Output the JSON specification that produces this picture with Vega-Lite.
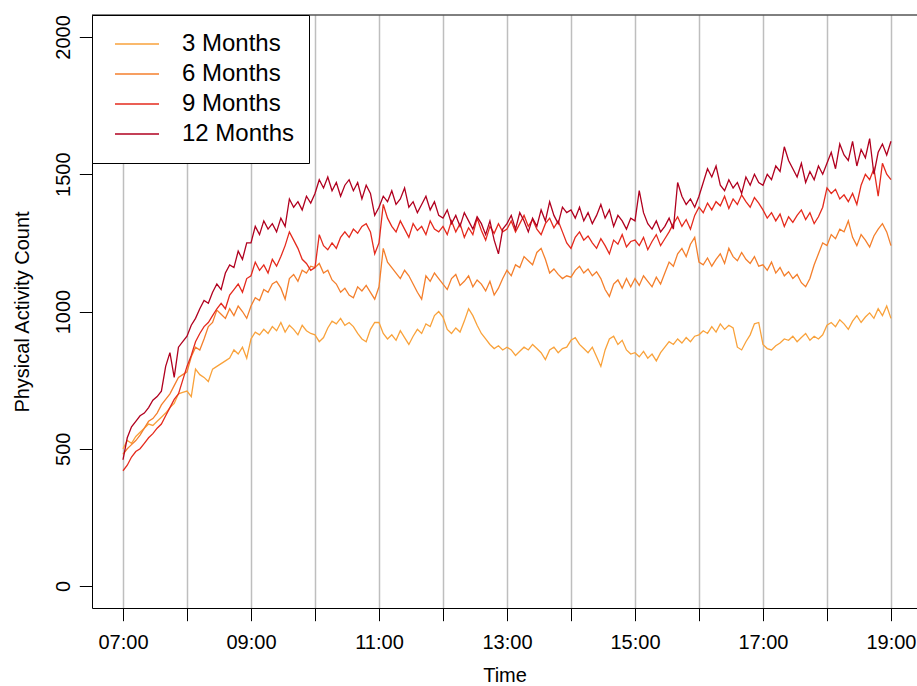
{
  "$schema": "https://vega.github.io/schema/vega-lite/v6.json",
  "width": 825,
  "height": 593,
  "autosize": {"type": "none"},
  "padding": {"left": 92, "top": 15, "right": 0, "bottom": 78},
  "background": "white",
  "config": {"font": "Liberation Sans", "view": {"stroke": null}},
  "data": {"values": [
{"m":0,"m3":500,"m6":480,"m9":420,"m12":460},
{"m":4,"m3":530,"m6":500,"m9":440,"m12":540},
{"m":8,"m3":520,"m6":515,"m9":470,"m12":580},
{"m":12,"m3":545,"m6":530,"m9":490,"m12":600},
{"m":16,"m3":560,"m6":550,"m9":500,"m12":620},
{"m":20,"m3":575,"m6":575,"m9":520,"m12":630},
{"m":24,"m3":590,"m6":600,"m9":540,"m12":650},
{"m":28,"m3":585,"m6":610,"m9":555,"m12":677},
{"m":32,"m3":600,"m6":630,"m9":575,"m12":690},
{"m":36,"m3":615,"m6":660,"m9":590,"m12":710},
{"m":40,"m3":630,"m6":680,"m9":620,"m12":800},
{"m":44,"m3":650,"m6":700,"m9":650,"m12":850},
{"m":48,"m3":665,"m6":730,"m9":680,"m12":760},
{"m":52,"m3":700,"m6":760,"m9":700,"m12":870},
{"m":56,"m3":705,"m6":770,"m9":750,"m12":890},
{"m":60,"m3":710,"m6":780,"m9":800,"m12":910},
{"m":64,"m3":690,"m6":835,"m9":840,"m12":950},
{"m":68,"m3":790,"m6":870,"m9":890,"m12":975},
{"m":72,"m3":770,"m6":860,"m9":920,"m12":1010},
{"m":76,"m3":760,"m6":900,"m9":945,"m12":1040},
{"m":80,"m3":745,"m6":945,"m9":960,"m12":1030},
{"m":84,"m3":790,"m6":960,"m9":985,"m12":1070},
{"m":88,"m3":800,"m6":1005,"m9":1010,"m12":1100},
{"m":92,"m3":810,"m6":990,"m9":1030,"m12":1080},
{"m":96,"m3":820,"m6":975,"m9":1010,"m12":1140},
{"m":100,"m3":830,"m6":1010,"m9":1060,"m12":1170},
{"m":104,"m3":860,"m6":985,"m9":1080,"m12":1160},
{"m":108,"m3":845,"m6":1020,"m9":1100,"m12":1220},
{"m":112,"m3":870,"m6":1000,"m9":1070,"m12":1190},
{"m":116,"m3":830,"m6":975,"m9":1120,"m12":1250},
{"m":120,"m3":900,"m6":1020,"m9":1130,"m12":1250},
{"m":124,"m3":925,"m6":1050,"m9":1180,"m12":1310},
{"m":128,"m3":915,"m6":1040,"m9":1150,"m12":1280},
{"m":132,"m3":935,"m6":1080,"m9":1170,"m12":1330},
{"m":136,"m3":920,"m6":1070,"m9":1140,"m12":1300},
{"m":140,"m3":945,"m6":1100,"m9":1190,"m12":1320},
{"m":144,"m3":930,"m6":1110,"m9":1165,"m12":1290},
{"m":148,"m3":960,"m6":1085,"m9":1200,"m12":1340},
{"m":152,"m3":925,"m6":1045,"m9":1240,"m12":1310},
{"m":156,"m3":950,"m6":1120,"m9":1290,"m12":1410},
{"m":160,"m3":935,"m6":1135,"m9":1260,"m12":1380},
{"m":164,"m3":915,"m6":1110,"m9":1230,"m12":1400},
{"m":168,"m3":950,"m6":1150,"m9":1190,"m12":1370},
{"m":172,"m3":930,"m6":1140,"m9":1175,"m12":1420},
{"m":176,"m3":920,"m6":1165,"m9":1150,"m12":1395},
{"m":180,"m3":915,"m6":1160,"m9":1160,"m12":1430},
{"m":184,"m3":890,"m6":1175,"m9":1280,"m12":1480},
{"m":188,"m3":905,"m6":1140,"m9":1240,"m12":1450},
{"m":192,"m3":940,"m6":1150,"m9":1225,"m12":1490},
{"m":196,"m3":965,"m6":1115,"m9":1250,"m12":1440},
{"m":200,"m3":955,"m6":1100,"m9":1230,"m12":1470},
{"m":204,"m3":975,"m6":1070,"m9":1270,"m12":1420},
{"m":208,"m3":950,"m6":1085,"m9":1290,"m12":1460},
{"m":212,"m3":960,"m6":1060,"m9":1270,"m12":1480},
{"m":216,"m3":945,"m6":1050,"m9":1300,"m12":1440},
{"m":220,"m3":920,"m6":1090,"m9":1285,"m12":1470},
{"m":224,"m3":900,"m6":1075,"m9":1310,"m12":1410},
{"m":228,"m3":890,"m6":1095,"m9":1320,"m12":1460},
{"m":232,"m3":935,"m6":1070,"m9":1290,"m12":1430},
{"m":236,"m3":960,"m6":1045,"m9":1210,"m12":1350},
{"m":240,"m3":960,"m6":1090,"m9":1250,"m12":1380},
{"m":244,"m3":920,"m6":1230,"m9":1390,"m12":1420},
{"m":248,"m3":900,"m6":1180,"m9":1340,"m12":1400},
{"m":252,"m3":915,"m6":1160,"m9":1310,"m12":1440},
{"m":256,"m3":895,"m6":1140,"m9":1290,"m12":1390},
{"m":260,"m3":930,"m6":1120,"m9":1330,"m12":1410},
{"m":264,"m3":905,"m6":1150,"m9":1300,"m12":1450},
{"m":268,"m3":880,"m6":1130,"m9":1270,"m12":1380},
{"m":272,"m3":910,"m6":1100,"m9":1320,"m12":1400},
{"m":276,"m3":935,"m6":1070,"m9":1295,"m12":1360},
{"m":280,"m3":920,"m6":1045,"m9":1310,"m12":1390},
{"m":284,"m3":955,"m6":1130,"m9":1280,"m12":1420},
{"m":288,"m3":945,"m6":1110,"m9":1330,"m12":1370},
{"m":292,"m3":985,"m6":1140,"m9":1300,"m12":1400},
{"m":296,"m3":1000,"m6":1120,"m9":1290,"m12":1350},
{"m":300,"m3":980,"m6":1100,"m9":1310,"m12":1340},
{"m":304,"m3":935,"m6":1080,"m9":1280,"m12":1370},
{"m":308,"m3":920,"m6":1120,"m9":1330,"m12":1320},
{"m":312,"m3":940,"m6":1135,"m9":1290,"m12":1350},
{"m":316,"m3":925,"m6":1095,"m9":1320,"m12":1310},
{"m":320,"m3":965,"m6":1110,"m9":1270,"m12":1360},
{"m":324,"m3":1010,"m6":1130,"m9":1305,"m12":1330},
{"m":328,"m3":985,"m6":1090,"m9":1280,"m12":1300},
{"m":332,"m3":950,"m6":1115,"m9":1340,"m12":1345},
{"m":336,"m3":920,"m6":1100,"m9":1295,"m12":1320},
{"m":340,"m3":900,"m6":1075,"m9":1260,"m12":1280},
{"m":344,"m3":880,"m6":1110,"m9":1310,"m12":1330},
{"m":348,"m3":865,"m6":1060,"m9":1285,"m12":1260},
{"m":352,"m3":875,"m6":1085,"m9":1320,"m12":1210},
{"m":356,"m3":860,"m6":1120,"m9":1290,"m12":1300},
{"m":360,"m3":870,"m6":1150,"m9":1300,"m12":1320},
{"m":364,"m3":860,"m6":1130,"m9":1330,"m12":1350},
{"m":368,"m3":840,"m6":1170,"m9":1290,"m12":1300},
{"m":372,"m3":855,"m6":1160,"m9":1320,"m12":1360},
{"m":376,"m3":870,"m6":1200,"m9":1350,"m12":1330},
{"m":380,"m3":860,"m6":1185,"m9":1310,"m12":1290},
{"m":384,"m3":880,"m6":1170,"m9":1335,"m12":1340},
{"m":388,"m3":865,"m6":1215,"m9":1300,"m12":1310},
{"m":392,"m3":850,"m6":1230,"m9":1280,"m12":1370},
{"m":396,"m3":825,"m6":1190,"m9":1320,"m12":1330},
{"m":400,"m3":860,"m6":1140,"m9":1340,"m12":1400},
{"m":404,"m3":870,"m6":1155,"m9":1305,"m12":1350},
{"m":408,"m3":850,"m6":1135,"m9":1330,"m12":1320},
{"m":412,"m3":865,"m6":1120,"m9":1290,"m12":1380},
{"m":416,"m3":870,"m6":1130,"m9":1250,"m12":1360},
{"m":420,"m3":895,"m6":1125,"m9":1230,"m12":1370},
{"m":424,"m3":905,"m6":1150,"m9":1270,"m12":1340},
{"m":428,"m3":880,"m6":1165,"m9":1290,"m12":1380},
{"m":432,"m3":865,"m6":1140,"m9":1260,"m12":1330},
{"m":436,"m3":850,"m6":1155,"m9":1275,"m12":1360},
{"m":440,"m3":870,"m6":1130,"m9":1250,"m12":1320},
{"m":444,"m3":835,"m6":1145,"m9":1230,"m12":1350},
{"m":448,"m3":800,"m6":1120,"m9":1265,"m12":1390},
{"m":452,"m3":860,"m6":1080,"m9":1240,"m12":1340},
{"m":456,"m3":900,"m6":1055,"m9":1210,"m12":1370},
{"m":460,"m3":910,"m6":1100,"m9":1260,"m12":1310},
{"m":464,"m3":880,"m6":1115,"m9":1245,"m12":1350},
{"m":468,"m3":895,"m6":1085,"m9":1280,"m12":1330},
{"m":472,"m3":860,"m6":1120,"m9":1235,"m12":1300},
{"m":476,"m3":845,"m6":1090,"m9":1255,"m12":1340},
{"m":480,"m3":850,"m6":1120,"m9":1260,"m12":1330},
{"m":484,"m3":835,"m6":1095,"m9":1240,"m12":1440},
{"m":488,"m3":855,"m6":1130,"m9":1270,"m12":1360},
{"m":492,"m3":830,"m6":1110,"m9":1225,"m12":1320},
{"m":496,"m3":845,"m6":1090,"m9":1255,"m12":1300},
{"m":500,"m3":820,"m6":1125,"m9":1280,"m12":1330},
{"m":504,"m3":850,"m6":1100,"m9":1240,"m12":1290},
{"m":508,"m3":870,"m6":1140,"m9":1265,"m12":1310},
{"m":512,"m3":890,"m6":1180,"m9":1290,"m12":1340},
{"m":516,"m3":880,"m6":1165,"m9":1320,"m12":1300},
{"m":520,"m3":900,"m6":1210,"m9":1345,"m12":1470},
{"m":524,"m3":885,"m6":1230,"m9":1310,"m12":1420},
{"m":528,"m3":905,"m6":1200,"m9":1335,"m12":1390},
{"m":532,"m3":890,"m6":1245,"m9":1300,"m12":1410},
{"m":536,"m3":910,"m6":1270,"m9":1350,"m12":1380},
{"m":540,"m3":915,"m6":1180,"m9":1380,"m12":1420},
{"m":544,"m3":930,"m6":1170,"m9":1360,"m12":1470},
{"m":548,"m3":920,"m6":1195,"m9":1395,"m12":1520},
{"m":552,"m3":945,"m6":1165,"m9":1370,"m12":1490},
{"m":556,"m3":925,"m6":1190,"m9":1400,"m12":1530},
{"m":560,"m3":955,"m6":1210,"m9":1385,"m12":1460},
{"m":564,"m3":935,"m6":1175,"m9":1420,"m12":1440},
{"m":568,"m3":950,"m6":1230,"m9":1375,"m12":1480},
{"m":572,"m3":940,"m6":1200,"m9":1410,"m12":1450},
{"m":576,"m3":870,"m6":1185,"m9":1390,"m12":1470},
{"m":580,"m3":860,"m6":1215,"m9":1425,"m12":1430},
{"m":584,"m3":890,"m6":1190,"m9":1400,"m12":1490},
{"m":588,"m3":915,"m6":1175,"m9":1380,"m12":1460},
{"m":592,"m3":955,"m6":1200,"m9":1415,"m12":1500},
{"m":596,"m3":960,"m6":1165,"m9":1395,"m12":1470},
{"m":600,"m3":880,"m6":1170,"m9":1370,"m12":1460},
{"m":604,"m3":865,"m6":1150,"m9":1340,"m12":1500},
{"m":608,"m3":860,"m6":1180,"m9":1360,"m12":1480},
{"m":612,"m3":875,"m6":1140,"m9":1330,"m12":1530},
{"m":616,"m3":885,"m6":1160,"m9":1355,"m12":1510},
{"m":620,"m3":900,"m6":1130,"m9":1310,"m12":1600},
{"m":624,"m3":895,"m6":1145,"m9":1345,"m12":1550},
{"m":628,"m3":910,"m6":1120,"m9":1325,"m12":1520},
{"m":632,"m3":890,"m6":1135,"m9":1350,"m12":1490},
{"m":636,"m3":905,"m6":1105,"m9":1370,"m12":1540},
{"m":640,"m3":920,"m6":1090,"m9":1335,"m12":1470},
{"m":644,"m3":895,"m6":1120,"m9":1360,"m12":1510},
{"m":648,"m3":910,"m6":1170,"m9":1320,"m12":1480},
{"m":652,"m3":900,"m6":1210,"m9":1345,"m12":1530},
{"m":656,"m3":915,"m6":1250,"m9":1380,"m12":1500},
{"m":660,"m3":950,"m6":1240,"m9":1450,"m12":1540},
{"m":664,"m3":960,"m6":1280,"m9":1430,"m12":1580},
{"m":668,"m3":945,"m6":1265,"m9":1445,"m12":1520},
{"m":672,"m3":970,"m6":1300,"m9":1410,"m12":1610},
{"m":676,"m3":955,"m6":1290,"m9":1425,"m12":1570},
{"m":680,"m3":935,"m6":1330,"m9":1400,"m12":1550},
{"m":684,"m3":965,"m6":1270,"m9":1430,"m12":1620},
{"m":688,"m3":985,"m6":1240,"m9":1390,"m12":1530},
{"m":692,"m3":960,"m6":1280,"m9":1460,"m12":1590},
{"m":696,"m3":980,"m6":1260,"m9":1500,"m12":1560},
{"m":700,"m3":995,"m6":1235,"m9":1480,"m12":1630},
{"m":704,"m3":975,"m6":1275,"m9":1520,"m12":1500},
{"m":708,"m3":1010,"m6":1300,"m9":1420,"m12":1580},
{"m":712,"m3":985,"m6":1320,"m9":1540,"m12":1610},
{"m":716,"m3":1020,"m6":1290,"m9":1500,"m12":1570},
{"m":720,"m3":975,"m6":1240,"m9":1480,"m12":1620}
  ]},
  "layer": [
    {
      "transform": [{"fold": ["m3", "m6", "m9", "m12"], "as": ["series", "value"]}],
      "mark": {"type": "line", "strokeWidth": 1.3, "clip": true},
      "encoding": {
        "x": {
          "field": "m", "type": "quantitative",
          "scale": {"domain": [-29.06, 744.4], "nice": false, "zero": false},
          "axis": {
            "values": [0, 60, 120, 180, 240, 300, 360, 420, 480, 540, 600, 660, 720],
            "labelExpr": "datum.value % 120 == 0 ? ((datum.value / 60 + 7) < 10 ? '0' : '') + (datum.value / 60 + 7) + ':00' : ''",
            "title": "Time",
            "grid": true, "gridColor": "#BEBEBE", "gridWidth": 1.5,
            "domain": true, "domainColor": "black", "domainWidth": 1,
            "tickSize": 12.7, "tickColor": "black", "tickWidth": 1,
            "labelFontSize": 20, "labelColor": "black", "labelPadding": 12,
            "labelFlush": false, "labelOverlap": false,
            "titleFontSize": 20, "titleFontWeight": "normal", "titleColor": "black", "titlePadding": 13
          }
        },
        "y": {
          "field": "value", "type": "quantitative",
          "scale": {"domain": [-80, 2080], "nice": false, "zero": false},
          "axis": {
            "values": [0, 500, 1000, 1500, 2000],
            "format": "d",
            "title": "Physical Activity Count",
            "grid": false,
            "domain": true, "domainColor": "black", "domainWidth": 1,
            "tickSize": 12.7, "tickColor": "black", "tickWidth": 1,
            "labelAngle": 270, "labelAlign": "center", "labelBaseline": "bottom",
            "labelFontSize": 20, "labelColor": "black", "labelPadding": 6,
            "labelOverlap": false, "labelFlush": false,
            "titleFontSize": 20, "titleFontWeight": "normal", "titleColor": "black", "titlePadding": 21
          }
        },
        "color": {
          "field": "series", "type": "nominal",
          "scale": {"domain": ["m3", "m6", "m9", "m12"], "range": ["#F9A23B", "#F47F2C", "#E52A1D", "#B1001F"]},
          "legend": {
            "orient": "none", "legendX": 0, "legendY": 0, "title": null,
            "labelExpr": "replace(datum.label, 'm', '') + ' Months'",
            "symbolType": "stroke", "symbolSize": 1936, "symbolStrokeWidth": 1.5,
            "labelFontSize": 24, "labelColor": "black", "labelFont": "Liberation Sans",
            "fillColor": "white", "strokeColor": "black",
            "padding": 14, "symbolOffset": 8, "labelOffset": 22,
            "clipHeight": 30, "rowPadding": 0
          }
        }
      }
    },
    {
      "data": {"values": [{}]},
      "mark": {"type": "rule", "color": "black", "strokeWidth": 1},
      "encoding": {"y": {"datum": 2080}}
    }
  ]
}
